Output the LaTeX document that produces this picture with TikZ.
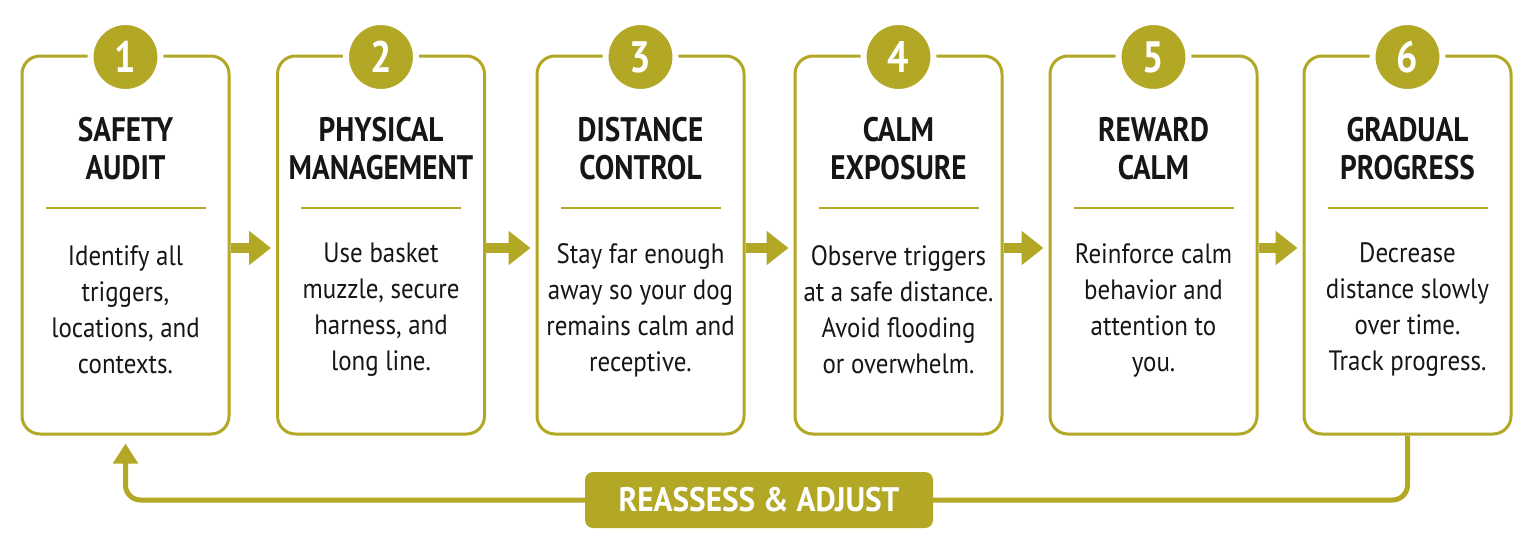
\documentclass[tikz,border=0pt]{standalone}
\usepackage{fontspec}
\setmainfont{PT Sans}
\newfontfamily\condf[FakeStretch=0.86]{PT Sans}
\newfontfamily\bodyf[FakeStretch=0.89]{PT Sans}
\newfontfamily\tagf[FakeStretch=0.92]{PT Sans}
\usetikzlibrary{arrows.meta}
\definecolor{olive}{RGB}{178,168,38}
\definecolor{ink}{RGB}{22,22,22}
\tikzset{
  stepbox/.style={draw=olive, line width=3pt, rounded corners=18pt, fill=white,
    minimum width=207pt, minimum height=378pt, inner sep=0pt},
  numcirc/.style={circle, fill=olive, draw=white, line width=6pt, minimum size=70pt, inner sep=0pt,
    text=white, font=\condf\bfseries\fontsize{44}{44}\selectfont},
  ttl/.style={text=ink, font=\condf\bfseries\fontsize{34}{38}\selectfont, align=center, inner sep=0pt},
  body/.style={text=ink, font=\bodyf\fontsize{28}{36}\selectfont, align=center, inner sep=0pt},
  sep/.style={draw=olive, line width=2pt},
  flow/.style={draw=olive, line width=10pt, -{Triangle[length=22pt, width=33pt]}, shorten >=5pt},
  loopline/.style={draw=olive, line width=5pt, rounded corners=15pt},
  tag/.style={fill=olive, rounded corners=8pt, minimum width=348pt, minimum height=56pt,
    text=white, font=\tagf\bfseries\fontsize{34}{34}\selectfont, inner sep=0pt}
}
\begin{document}
\begin{tikzpicture}[x=1pt, y=-1pt]
\useasboundingbox[fill=white] (0,0) rectangle (1536,557);
\foreach \i/\cx/\t/\b in {
  1/125.5/{SAFETY\\AUDIT}/{Identify all\\triggers,\\locations, and\\contexts.},
  2/381/{PHYSICAL\\MANAGEMENT}/{Use basket\\muzzle, secure\\harness, and\\long line.},
  3/640.5/{DISTANCE\\CONTROL}/{Stay far enough\\away so your dog\\remains calm and\\receptive.},
  4/898.5/{CALM\\EXPOSURE}/{Observe triggers\\at a safe distance.\\Avoid flooding\\or overwhelm.},
  5/1153.5/{REWARD\\CALM}/{Reinforce calm\\behavior and\\attention to\\you.},
  6/1407.5/{GRADUAL\\PROGRESS}/{Decrease\\distance slowly\\over time.\\Track progress.}}{
  \node[stepbox] (b\i) at (\cx,245) {};
  \node[numcirc] (n\i) at (\cx,57) {\i};
  \node[ttl] (t\i) at (\cx,149) {\t};
  \coordinate (sl\i) at (\cx-80,208);
  \coordinate (sr\i) at (\cx+80,208);
  \draw[sep] (sl\i) -- (sr\i);
  \node[body] (d\i) at (\cx,310) {\b};
}
\foreach \a/\b in {1/2,2/3,3/4,4/5,5/6}{
  \draw[flow] ([yshift=-3pt]b\a.east) -- ([yshift=-3pt]b\b.west);
}
\coordinate (lr) at (1407.5,500);
\coordinate (ll) at (125.5,500);
\draw[loopline, -{Triangle[length=20pt, width=24pt]}, shorten >=8pt] (b6.south) -- (lr) -- (ll) -- (b1.south);
\node[tag] (re) at (759,500) {REASSESS \& ADJUST};
\end{tikzpicture}
\end{document}
